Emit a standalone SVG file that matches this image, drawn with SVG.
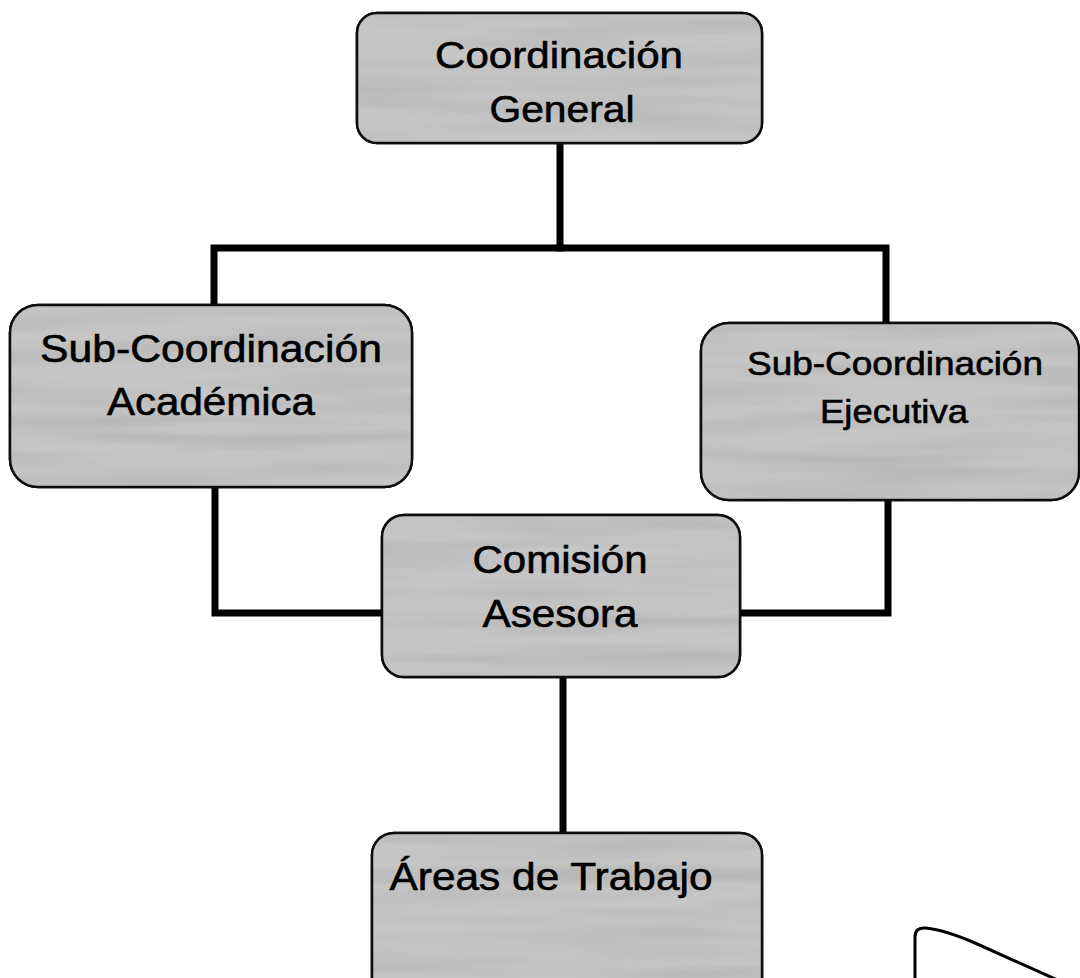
<svg xmlns="http://www.w3.org/2000/svg" width="1080" height="978" viewBox="0 0 1080 978">
<style>
.box{fill:#c6c6c6;stroke:#111;stroke-width:2.5;filter:url(#tex)}
.lbl{font-family:"Liberation Sans",Arial,sans-serif;fill:#000;stroke:#000;stroke-width:0.6;text-anchor:middle}
.conn{fill:none;stroke:#000;stroke-width:7;stroke-linejoin:miter;stroke-linecap:square}
</style>
<defs>
<filter id="tex" x="-2%" y="-2%" width="104%" height="104%">
<feTurbulence type="fractalNoise" baseFrequency="0.004 0.06" numOctaves="2" seed="4" result="n"/>
<feColorMatrix in="n" type="matrix" values="0 0 0 0 0  0 0 0 0 0  0 0 0 0 0  0 0 0 0.3 -0.1" result="d"/>
<feComposite in="d" in2="SourceGraphic" operator="atop" result="t"/>
<feMerge><feMergeNode in="SourceGraphic"/><feMergeNode in="t"/></feMerge>
</filter>
</defs>
<rect width="1080" height="978" fill="#fff"/>
<g id="connectors">
<path class="conn" d="M560 143 V248"/>
<path class="conn" d="M214 305 V248 H886 V323"/>
<path class="conn" d="M215 487 V613 H382"/>
<path class="conn" d="M740 613 H888 V500"/>
<path class="conn" d="M563 677 V833"/>
</g>
<g id="coordinacion-general">
<rect class="box" x="357" y="13" width="405" height="130" rx="20"/>
<text class="lbl" x="559" y="68" font-size="37" textLength="248" lengthAdjust="spacingAndGlyphs">Coordinación</text>
<text class="lbl" x="562" y="122" font-size="37" textLength="145" lengthAdjust="spacingAndGlyphs">General</text>
</g>
<g id="sub-academica">
<rect class="box" x="10" y="305" width="402" height="182" rx="28"/>
<text class="lbl" x="211" y="362" font-size="38" textLength="342" lengthAdjust="spacingAndGlyphs">Sub-Coordinación</text>
<text class="lbl" x="211" y="415" font-size="38" textLength="208" lengthAdjust="spacingAndGlyphs">Académica</text>
</g>
<g id="sub-ejecutiva">
<rect class="box" x="701" y="323" width="378" height="177" rx="28"/>
<text class="lbl" x="895" y="375" font-size="33" textLength="296" lengthAdjust="spacingAndGlyphs">Sub-Coordinación</text>
<text class="lbl" x="894" y="423" font-size="33" textLength="148" lengthAdjust="spacingAndGlyphs">Ejecutiva</text>
</g>
<g id="comision-asesora">
<rect class="box" x="382" y="515" width="358" height="162" rx="22"/>
<text class="lbl" x="560" y="573" font-size="38" textLength="175" lengthAdjust="spacingAndGlyphs">Comisión</text>
<text class="lbl" x="560" y="627" font-size="38" textLength="155" lengthAdjust="spacingAndGlyphs">Asesora</text>
</g>
<g id="areas-trabajo">
<rect class="box" x="372" y="833" width="390" height="170" rx="22"/>
<text class="lbl" x="551" y="890" font-size="38" textLength="323" lengthAdjust="spacingAndGlyphs">Áreas de Trabajo</text>
</g>
<path d="M915 985 V937 Q915 927 926 928 Q945 930 975 943 L1062 982" fill="none" stroke="#000" stroke-width="3"/>
</svg>
